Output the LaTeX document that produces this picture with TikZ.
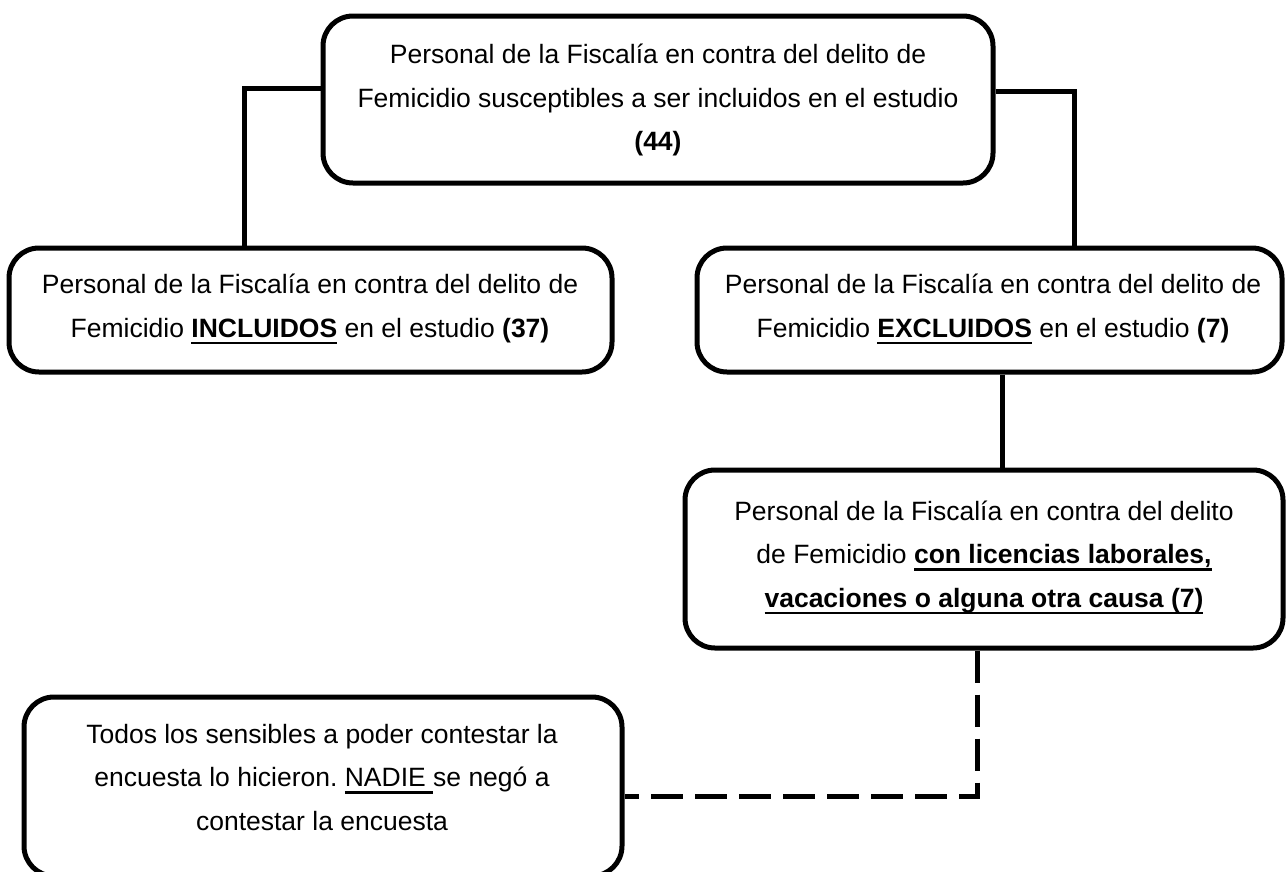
\documentclass[tikz,border=0pt]{standalone}
\usepackage{fontspec}
\setmainfont{Liberation Sans}
\frenchspacing
\newsavebox{\myulbox}
\newcommand{\myul}[1]{\sbox{\myulbox}{#1}\rlap{\rule[-7pt]{\wd\myulbox}{2.5pt}}\usebox{\myulbox}}
\tikzset{
  box/.style={draw=black, line width=5pt, rounded corners=30pt, fill=white, inner sep=0pt},
  txt/.style={align=center, anchor=base, inner sep=0pt, font=\fontsize{26.5}{43.5}\selectfont\frenchspacing},
  conn/.style={draw=black, line width=5pt},
  dconn/.style={draw=black, line width=5pt, dash pattern=on 32pt off 12pt}
}
\begin{document}
\begin{tikzpicture}[x=1pt,y=-1pt]
\useasboundingbox[fill=white] (0,0) rectangle (1286,871);
% boxes
\node[box, minimum width=670pt, minimum height=167pt] (top) at (658,99.5) {};
\node[box, minimum width=603pt, minimum height=124pt] (inc) at (310.5,310) {};
\node[box, minimum width=585pt, minimum height=124pt] (exc) at (989.5,310) {};
\node[box, minimum width=598pt, minimum height=178pt] (lic) at (984,559) {};
\node[box, minimum width=598pt, minimum height=179pt] (nad) at (323,786.5) {};
% texts (anchor = baseline of the last line)
\node[txt] (topT) at (658,150.5) {Personal de la Fiscalía en contra del delito de\\Femicidio susceptibles a ser incluidos en el estudio\\\textbf{(44)}};
\node[txt] (incT) at (310,337) {Personal de la Fiscalía en contra del delito de\\Femicidio \myul{\textbf{INCLUIDOS}} en el estudio \textbf{(37)}};
\node[txt] (excT) at (993,337) {Personal de la Fiscalía en contra del delito de\\Femicidio \myul{\textbf{EXCLUIDOS}} en el estudio \textbf{(7)}};
\node[txt] (licT) at (984,607) {Personal de la Fiscalía en contra del delito\\de Femicidio \myul{\textbf{con licencias laborales,}}\\\myul{\textbf{vacaciones o alguna otra causa (7)}}};
\node[txt] (nadT) at (322,830) {Todos los sensibles a poder contestar la\\encuesta lo hicieron. \myul{NADIE\ }se negó a\\contestar la encuesta};
% connectors
\coordinate (tl) at (244,88);
\coordinate (tr) at (1074,91);
\coordinate (vx) at (1002,0);
\coordinate (dc) at (977,796);
\draw[conn] (top.west |- tl) -| (inc.north -| tl);
\draw[conn] (top.east |- tr) -| (exc.north -| tr);
\draw[conn] (exc.south -| vx) -- (lic.north -| vx);
\draw[dconn] (lic.south -| dc) -- (dc) -- (nad.east |- dc);
\end{tikzpicture}
\end{document}
